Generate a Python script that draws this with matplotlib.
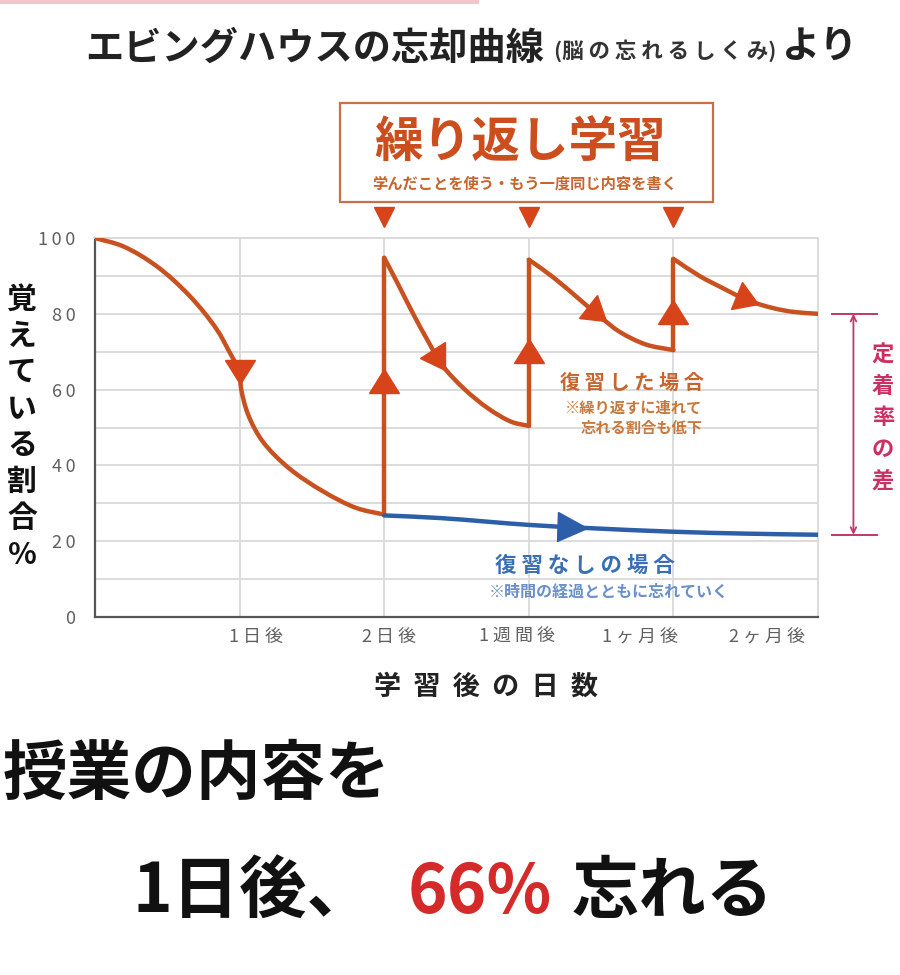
import numpy as np
import matplotlib
matplotlib.use('Agg')
import matplotlib.pyplot as plt
from matplotlib.markers import MarkerStyle
from matplotlib.transforms import Affine2D
from matplotlib.patches import Rectangle, PathPatch
from matplotlib.lines import Line2D
from matplotlib.path import Path

plt.rcParams['font.family'] = ['Noto Sans CJK JP', 'DejaVu Sans']

# ---------------- data ----------------
x_tick_labels = ['1日後', '2日後', '1週間後', '1ヶ月後', '2ヶ月後']
y_tick_values = [0, 20, 40, 60, 80, 100]

# first forgetting curve (no review yet)
forget_x = [0, 0.195, 0.425, 0.655, 0.84, 0.93, 1.0, 1.01, 1.06, 1.16, 1.34, 1.575, 1.805, 2.0]
forget_y = [100, 97.8, 92.6, 84.7, 76, 69.9, 64.6, 60.3, 53.3, 46.3, 39.3, 33.2, 28.8, 27]
# after 1st review (2 days)
review1_x = [2.0, 2.1, 2.2, 2.3, 2.4, 2.55, 2.72, 2.88, 3.0]
review1_y = [94.8, 87.5, 80.0, 73.0, 66.5, 60.3, 55.0, 51.5, 50.4]
# after 2nd review (1 week)
review2_x = [3.0, 3.17, 3.36, 3.5, 3.63, 3.81, 4.0]
review2_y = [94.3, 89.6, 83.5, 79.0, 75.2, 71.9, 70.4]
# after 3rd review (1 month)
review3_x = [4.0, 4.18, 4.34, 4.51, 4.69, 4.83, 5.0]
review3_y = [94.5, 90, 86.8, 83.6, 81.5, 80.5, 80]
# no review
noreview_x = [2.0, 2.39, 3.0, 3.39, 4.0, 4.5, 5.0]
noreview_y = [26.8, 26.1, 24.3, 23.5, 22.5, 22.0, 21.7]

review_points = [2, 3, 4]

# ---------------- style ----------------
ORANGE = '#c9501f'
ORANGE_ARROW = '#d8441a'
ORANGE_TEXT = '#c8642d'
ORANGE_NOTE = '#c8783c'
BLUE = '#2d5fa8'
BLUE_TEXT = '#3a6fb5'
BLUE_NOTE = '#6a90c8'
MAGENTA = '#c0386a'
GRID = '#d9d9d9'

fig = plt.figure(figsize=(9, 9.75), dpi=100)
fig.patch.set_facecolor('white')

ax = fig.add_axes([95/900, 1-617/975, (818-95)/900, (617-238)/975])
ax.set_xlim(0, 5)
ax.set_ylim(0, 100)

# grid / ticks
ax.set_yticks(y_tick_values)
ax.set_yticklabels(['\u2009'.join(str(v)) for v in y_tick_values], fontsize=13,
                   color='#606060')
ax.set_yticks(np.arange(10, 100, 20), minor=True)
ax.set_xticks([1, 2, 3, 4], minor=True)
label_pos = [1.11, 2.03, 2.92, 3.77, 4.65]
ax.set_xticks(label_pos)
ax.set_xticklabels([' '.join(s) for s in x_tick_labels], fontsize=13, color='#606060')
ax.tick_params(axis='both', which='both', length=0)
ax.tick_params(axis='y', pad=14)
ax.tick_params(axis='x', pad=8)
ax.grid(which='both', axis='y', color=GRID, lw=1.3, zorder=0)
ax.grid(which='minor', axis='x', color=GRID, lw=1.3, zorder=0)
for s in ['left', 'bottom']:
    ax.spines[s].set_color('#555555')
    ax.spines[s].set_linewidth(1.6)
for s in ['top', 'right']:
    ax.spines[s].set_color(GRID)
    ax.spines[s].set_linewidth(1.3)


def smooth_path(xs, ys):
    """Centripetal Catmull-Rom through the given points, as cubic Bezier path."""
    pts = ax.transData.transform(np.column_stack([xs, ys]))
    ext = np.vstack([2 * pts[0] - pts[1], pts, 2 * pts[-1] - pts[-2]])
    verts = [pts[0]]
    codes = [Path.MOVETO]
    for k in range(len(pts) - 1):
        P0, P1, P2, P3 = ext[k], ext[k + 1], ext[k + 2], ext[k + 3]
        d1 = max(np.linalg.norm(P1 - P0) ** 0.5, 1e-6)
        d2 = max(np.linalg.norm(P2 - P1) ** 0.5, 1e-6)
        d3 = max(np.linalg.norm(P3 - P2) ** 0.5, 1e-6)
        B1 = (d1**2 * P2 - d2**2 * P0 + (2*d1**2 + 3*d1*d2 + d2**2) * P1) / (3*d1*(d1 + d2))
        B2 = (d3**2 * P1 - d2**2 * P3 + (2*d3**2 + 3*d3*d2 + d2**2) * P2) / (3*d3*(d3 + d2))
        verts += [B1, B2, P2]
        codes += [Path.CURVE4] * 3
    verts = ax.transData.inverted().transform(np.array(verts))
    return Path(verts, codes)


def draw_curve(xs, ys, color):
    ax.add_patch(PathPatch(smooth_path(xs, ys), fill=False, edgecolor=color, lw=3.2,
                           capstyle='round', joinstyle='round', zorder=3))


# orange (with review)
for xs, ys in [(forget_x, forget_y), (review1_x, review1_y),
               (review2_x, review2_y), (review3_x, review3_y)]:
    draw_curve(xs, ys, ORANGE)
jumps = [(2, forget_y[-1], review1_y[0]),
         (3, review1_y[-1], review2_y[0]),
         (4, review2_y[-1], review3_y[0])]
for xp, lo, hi in jumps:
    ax.plot([xp, xp], [lo, hi], color=ORANGE, lw=3.2, solid_capstyle='round', zorder=3)
# blue (no review)
draw_curve(noreview_x, noreview_y, BLUE)


def tri(x, y, ang_deg, color, size, yscale=0.8):
    m = MarkerStyle('^', transform=Affine2D().scale(1.0, yscale).rotate_deg(ang_deg - 90))
    ax.plot([x], [y], marker=m, ms=size, color=color, ls='none', zorder=5, clip_on=False)


def curve_angle(xs, ys, x, h=0.05):
    y0 = np.interp(x - h, xs, ys)
    y1 = np.interp(x + h, xs, ys)
    p0 = ax.transData.transform((x - h, y0))
    p1 = ax.transData.transform((x + h, y1))
    return np.degrees(np.arctan2(p1[1] - p0[1], p1[0] - p0[0]))


# arrows along curves
tri(forget_x[6], forget_y[6], -90, ORANGE_ARROW, 21)
for xs, ys, xa in [(review1_x, review1_y, 2.38), (review2_x, review2_y, 3.47),
                   (review3_x, review3_y, 4.51)]:
    tri(xa, np.interp(xa, xs, ys), curve_angle(xs, ys, xa), ORANGE_ARROW, 21)
# up arrows on review jumps
for (xp, lo, hi), frac in zip(jumps, [0.52, 0.45, 0.42]):
    tri(xp, lo + (hi - lo) * frac, 90, ORANGE_ARROW, 21)
tri(3.3, np.interp(3.3, noreview_x, noreview_y), curve_angle(noreview_x, noreview_y, 3.3),
    BLUE, 21, yscale=1.0)

# down triangles above chart
for xp in review_points:
    ax.plot([xp], [105.5], marker='v', ms=14, color=ORANGE_ARROW, ls='none',
            clip_on=False, zorder=5)

# chart annotations
ax.text(3.71, 62, ' '.join('復習した場合'), fontsize=14.5, weight='bold',
        color=ORANGE_TEXT, ha='center', va='center')
ax.text(4.2, 55.1, '※繰り返すに連れて', fontsize=11, weight='bold',
        color=ORANGE_NOTE, ha='right', va='center')
ax.text(4.2, 49.9, '忘れる割合も低下', fontsize=11, weight='bold',
        color=ORANGE_NOTE, ha='right', va='center')
ax.text(3.39, 13.7, ' '.join('復習なしの場合'), fontsize=15.5, weight='bold',
        color=BLUE_TEXT, ha='center', va='center')
ax.text(2.72, 6.6, '※時間の経過とともに忘れていく', fontsize=11.5, weight='bold',
        color=BLUE_NOTE, ha='left', va='center')

# retention-difference bracket
top_v = review3_y[-1]
bot_v = noreview_y[-1]
for v in (top_v, bot_v):
    ax.plot([5.10, 5.41], [v, v], color=MAGENTA, lw=1.4, clip_on=False, zorder=4)
ax.annotate('', xy=(5.245, top_v), xytext=(5.245, bot_v),
            arrowprops=dict(arrowstyle='<->', color=MAGENTA, lw=1.3,
                            mutation_scale=10, shrinkA=0, shrinkB=0),
            annotation_clip=False)
fig.text(883/900, 1-418/975, '\n'.join('定着率の差'), fontsize=16, weight='bold',
         color='#cc3060', ha='center', va='center', linespacing=1.47)

# y label (vertical stacked)
fig.text(22/900, 1-427/975, '\n'.join('覚えている割合%'), fontsize=21.5, weight='bold',
         color='#111111', ha='center', va='center', linespacing=1.27)
# x label
fig.text(486/900, 1-687/975, '  '.join('学習後の日数'), fontsize=19.5, weight='bold',
         color='#222222', ha='center', va='center')

# top title
t1 = fig.text(85/900, 1-48/975, 'エビングハウスの忘却曲線', fontsize=27.5, weight='bold',
              color='#222222', ha='left', va='center')
a2 = ax.annotate('(' + ' '.join('脳の忘れるしくみ') + ')', xy=(1, 0.14), xycoords=t1,
                 xytext=(7, 0), textcoords='offset points', fontsize=15.5,
                 weight='bold', color='#333333', ha='left', va='bottom',
                 annotation_clip=False)
ax.annotate('より', xy=(1, 0), xycoords=a2, xytext=(4, -3), textcoords='offset points',
            fontsize=27.5, weight='bold', color='#222222', ha='left', va='bottom',
            annotation_clip=False)

# repeated learning box
fig.add_artist(Rectangle((340/900, 1-202/975), 373/900, 99/975, transform=fig.transFigure,
                         facecolor='white', edgecolor='#c8704a', lw=1.6))
fig.text(520/900, 1-143/975, '繰り返し学習', fontsize=35, weight='bold',
         color='#cc4e1e', ha='center', va='center')
fig.text(525/900, 1-184/975, '学んだことを使う・もう一度同じ内容を書く', fontsize=11,
         weight='bold', color='#c8642d', ha='center', va='center')

# pink stripe at top
fig.add_artist(Line2D([0, 0.53], [0.998, 0.998], transform=fig.transFigure,
                      color='#f2c4cc', lw=3))

# bottom statement
fig.text(3/900, 1-775/975, '授業の内容を', fontsize=46.5, weight='bold',
         color='#111111', ha='left', va='center')
fig.text(132/900, 1-893/975, '1日後、', fontsize=48.5, weight='bold',
         color='#111111', ha='left', va='center')
fig.text(408/900, 1-893/975, '66%', fontsize=48.5, weight='bold',
         color='#d42a2a', ha='left', va='center')
fig.text(572/900, 1-893/975, '忘れる', fontsize=48.5, weight='bold',
         color='#111111', ha='left', va='center')

fig.savefig('out.png', dpi=100, facecolor='white')
